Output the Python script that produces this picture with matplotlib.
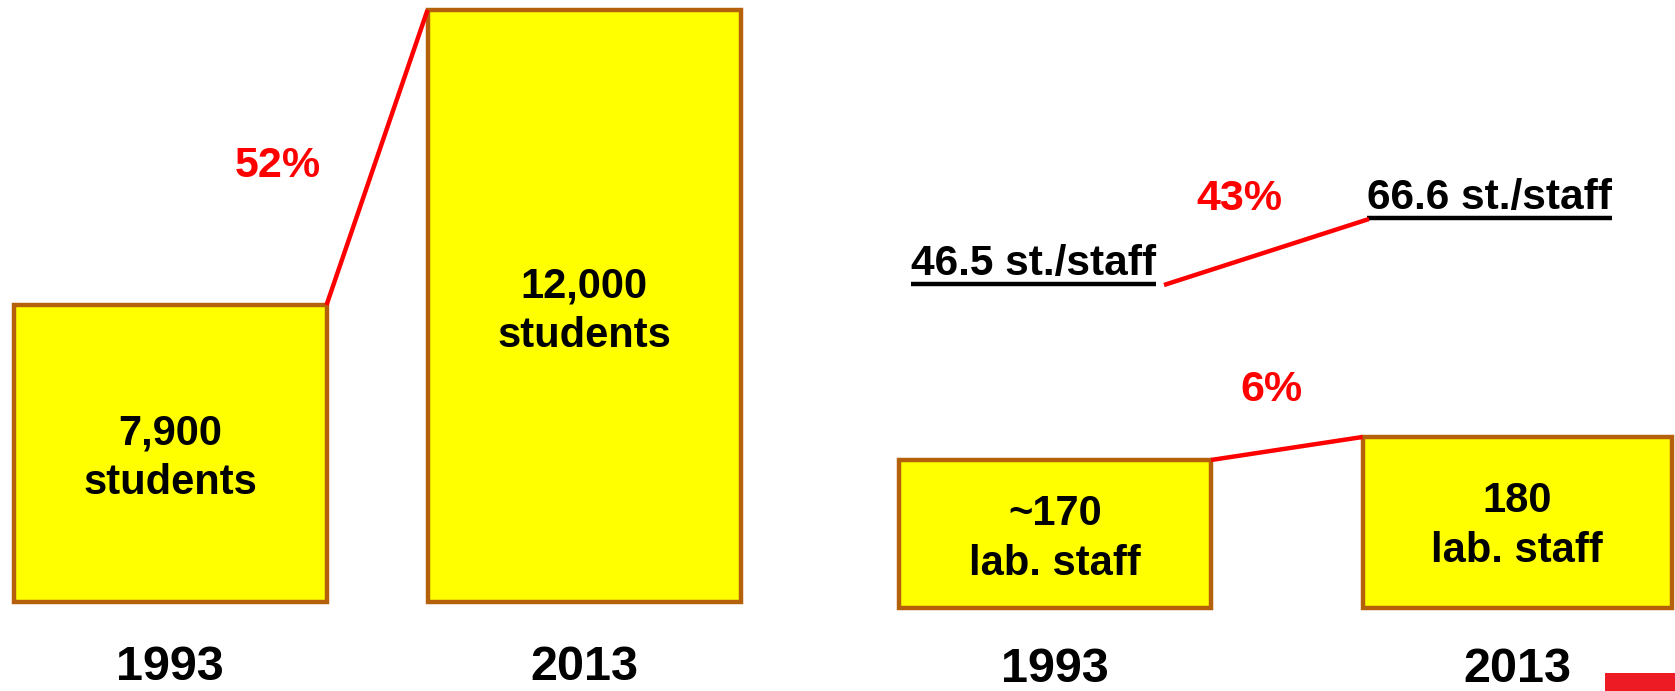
import matplotlib.pyplot as plt

plt.rcParams["font.family"] = ["Liberation Sans", "DejaVu Sans"]

# =========================================================
# DATA (bar heights are the drawn heights)
# =========================================================
years = ["1993", "2013"]

student_labels = ["7,900\nstudents", "12,000\nstudents"]
student_heights = [297, 592]
student_growth = "52%"

staff_labels = ["~170\nlab. staff", "180\nlab. staff"]
staff_heights = [148, 171]
staff_growth = "6%"

ratio_labels = ["46.5 st./staff", "66.6 st./staff"]
ratio_levels = [406, 472]
ratio_growth = "43%"

# =========================================================
# LAYOUT
# =========================================================
W, H = 1675, 691
bar_fill = "#FFFF00"
bar_edge = "#B5610B"
red = "#FF0000"

student_x = [170, 584]
student_w = 313
student_base = 89
student_text_y = [233, 380]

staff_x = [1055, 1517]
staff_w = [312, 309]
staff_base = 83
staff_text_y = [152, 165]

fig = plt.figure(figsize=(W / 100, H / 100), dpi=100)
ax = fig.add_axes([0, 0, 1, 1])
ax.set_xlim(0, W)
ax.set_ylim(0, H)
ax.axis("off")

# ---- students ----
ax.bar(student_x, student_heights, width=student_w, bottom=student_base,
       color=bar_fill, edgecolor=bar_edge, linewidth=3.2, zorder=2)
for x, y, lab in zip(student_x, student_text_y, student_labels):
    ax.text(x, y, lab, ha="center", va="center", fontsize=30, fontweight="bold",
            linespacing=1.3, zorder=3)

x0 = student_x[0] + student_w / 2
x1 = student_x[1] - student_w / 2
ax.plot([x0, x1], [student_base + student_heights[0], student_base + student_heights[1]],
        color=red, linewidth=3.2, zorder=4, solid_capstyle="butt")
ax.text(278, 525, student_growth, color=red, ha="center", va="center",
        fontsize=31, fontweight="bold")

for x, yr in zip(student_x, years):
    ax.text(x, 24, yr, ha="center", va="center", fontsize=35, fontweight="bold")

# ---- lab staff ----
ax.bar(staff_x, staff_heights, width=staff_w, bottom=staff_base,
       color=bar_fill, edgecolor=bar_edge, linewidth=3.2, zorder=2)
for x, y, lab in zip(staff_x, staff_text_y, staff_labels):
    ax.text(x, y, lab, ha="center", va="center", fontsize=30, fontweight="bold",
            linespacing=1.3, zorder=3)

x0 = staff_x[0] + staff_w[0] / 2
x1 = staff_x[1] - staff_w[1] / 2
ax.plot([x0, x1], [staff_base + staff_heights[0], staff_base + staff_heights[1]],
        color=red, linewidth=3.2, zorder=4, solid_capstyle="butt")
ax.text(1271, 301, staff_growth, color=red, ha="center", va="center",
        fontsize=31, fontweight="bold")

for x, yr in zip(staff_x, years):
    ax.text(x, 21, yr, ha="center", va="center", fontsize=35, fontweight="bold")

# ---- students per staff ----
ratio_text_x = [911, 1367]
ratio_texts = []
for x, y, lab in zip(ratio_text_x, ratio_levels, ratio_labels):
    t = ax.text(x, y + 21, lab, ha="left", va="center", fontsize=30.5, fontweight="bold")
    ratio_texts.append(t)

fig.canvas.draw()
renderer = fig.canvas.get_renderer()
inv = ax.transData.inverted()
ends = []
for t, y in zip(ratio_texts, ratio_levels):
    bb = t.get_window_extent(renderer)
    (xa, _), (xb, _) = inv.transform([[bb.x0, 0], [bb.x1, 0]])
    ax.plot([xa, xb], [y + 1, y + 1], color="black", linewidth=3.2, solid_capstyle="butt")
    ends.append((xa, xb))

ax.plot([ends[0][1] + 8, ends[1][0] + 2], [ratio_levels[0], ratio_levels[1]],
        color=red, linewidth=3.2, solid_capstyle="butt")
ax.text(1239, 492, ratio_growth, color=red, ha="center", va="center",
        fontsize=31, fontweight="bold")

# small red mark, bottom right corner
ax.bar([1640], [18], width=70, bottom=0, color="#ED1C24", linewidth=0)

fig.savefig("out.png", dpi=100)
